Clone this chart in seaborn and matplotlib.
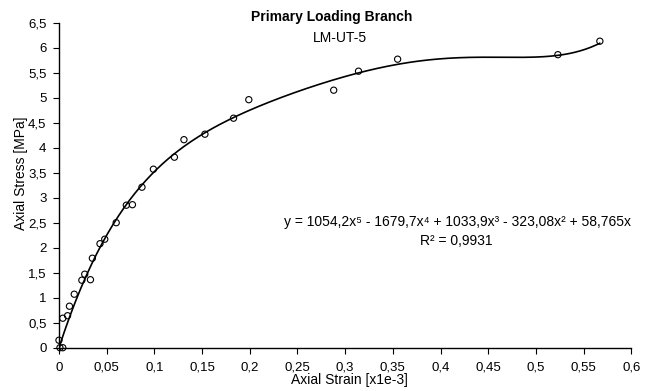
import numpy as np
import pandas as pd
import matplotlib
matplotlib.use("Agg")
import matplotlib.pyplot as plt
from matplotlib.ticker import FuncFormatter, MultipleLocator
import seaborn as sns

# Data
strain = [0.000, 0.001, 0.004, 0.004, 0.009, 0.011, 0.016, 0.024, 0.027, 0.033,
          0.035, 0.043, 0.048, 0.060, 0.0706, 0.077, 0.087, 0.099, 0.121, 0.131,
          0.153, 0.183, 0.199, 0.288, 0.314, 0.355, 0.523, 0.567]
stress = [0.15, 0.00, 0.00, 0.59, 0.64, 0.83, 1.07, 1.35, 1.47, 1.36,
          1.79, 2.08, 2.17, 2.50, 2.85, 2.86, 3.21, 3.57, 3.81, 4.16,
          4.27, 4.59, 4.96, 5.15, 5.53, 5.77, 5.86, 6.13]
# Trendline coefficients (highest power first, zero intercept) as printed on the chart
trend_coefs = [1054.2, -1679.7, 1033.9, -323.08, 58.765, 0.0]
r_squared = "0,9931"

sns.set_theme(style="white")
plt.rcParams['font.family'] = ['Liberation Sans', 'DejaVu Sans']

fig = plt.figure(figsize=(6.56, 3.91), dpi=100)
ax = fig.add_axes([0.0899, 0.1107, 0.8725, 0.8313])

df = pd.DataFrame({"strain": strain, "stress": stress})
xs = np.linspace(0, max(strain), 300)
ys = np.polyval(trend_coefs, xs)
sns.lineplot(x=xs, y=ys, ax=ax, color="black", linewidth=1.2)
sns.scatterplot(data=df, x="strain", y="stress", ax=ax, marker="o", s=20,
                facecolor="none", edgecolor="black", linewidth=0.8, zorder=3,
                clip_on=False)

ax.set_xlim(0, 0.6)
ax.set_ylim(0, 6.5)
ax.xaxis.set_major_locator(MultipleLocator(0.05))
ax.yaxis.set_major_locator(MultipleLocator(0.5))

def comma(v, pos):
    s = f"{v:.2f}".rstrip("0").rstrip(".")
    return s.replace(".", ",")

ax.xaxis.set_major_formatter(FuncFormatter(comma))
ax.yaxis.set_major_formatter(FuncFormatter(comma))

for side in ["top", "right"]:
    ax.spines[side].set_visible(False)
for side in ["left", "bottom"]:
    ax.spines[side].set_color("black")
    ax.spines[side].set_linewidth(1.0)

ax.tick_params(axis="both", which="major", direction="out", length=4, width=0.8,
               color="black", labelsize=9.5, labelcolor="black", left=True, bottom=True, pad=5)
ax.tick_params(axis="x", pad=6)

ax.set_xlabel("Axial Strain [x1e-3]", fontsize=10, color="black", va="center")
ax.set_ylabel("Axial Stress [MPa]", fontsize=10, color="black", va="center")
ax.xaxis.set_label_coords(0.507, -0.099)
ax.yaxis.set_label_coords(-0.066, 0.537)

fig.text(332 / 656, 1 - 17 / 391, "Primary Loading Branch", ha="center", va="center",
         fontsize=10, fontweight="bold", color="black")
fig.text(340 / 656, 1 - 38 / 391, "LM-UT-5", ha="center", va="center",
         fontsize=10, color="black")

eq = "y = 1054,2x\u2075 - 1679,7x\u2074 + 1033,9x\u00b3 - 323,08x\u00b2 + 58,765x"
fig.text(457 / 656, 1 - 222 / 391, eq, ha="center", va="center", fontsize=10, color="black")
fig.text(456 / 656, 1 - 241 / 391, "R\u00b2 = " + r_squared, ha="center", va="center",
         fontsize=10, color="black")

fig.savefig("out.png", dpi=100)
